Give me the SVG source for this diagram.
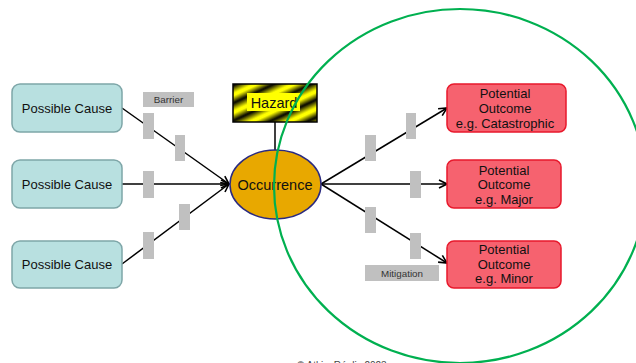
<svg xmlns="http://www.w3.org/2000/svg" width="636" height="363" viewBox="0 0 636 363">
  <defs>
    <style>
      text { font-family: "Liberation Sans", Arial, sans-serif; fill: #111; }
      .cause { fill: #b8e0e0; stroke: #7ea6a8; stroke-width: 1.5; }
      .outcome { fill: #f6626f; stroke: #e8192c; stroke-width: 1.5; }
      .barrier { fill: #c0c0c0; }
      .link { stroke: #000; stroke-width: 1.5; fill: none; }
      .arrow { marker-end: url(#arrowhead); }
      .lbl13 { font-size: 13px; text-anchor: middle; }
      .small { font-size: 9.8px; text-anchor: middle; fill: #333; }
    </style>
    <marker id="arrowhead" viewBox="0 0 10 10" refX="9" refY="5" markerWidth="10" markerHeight="10" markerUnits="userSpaceOnUse" orient="auto">
      <polyline points="1,1 9,5 1,9" fill="none" stroke="#000" stroke-width="1.6"/>
    </marker>
    <linearGradient id="stripeGrad" x1="0" y1="0" x2="0" y2="1">
      <stop offset="0" stop-color="#000"/>
      <stop offset="0.45" stop-color="#ffff00"/>
      <stop offset="0.6" stop-color="#ffff00"/>
      <stop offset="1" stop-color="#000"/>
    </linearGradient>
    <pattern id="hazardStripes" patternUnits="userSpaceOnUse" width="40" height="16" patternTransform="rotate(-25)">
      <rect width="40" height="16" fill="url(#stripeGrad)"/>
    </pattern>
  </defs>

  <rect width="636" height="363" fill="#fff"/>

  <!-- connectors -->
  <g id="connectors">
    <line class="link arrow" x1="122" y1="108" x2="229" y2="184"/>
    <line class="link arrow" x1="122" y1="184" x2="229" y2="184"/>
    <line class="link arrow" x1="122" y1="264" x2="229" y2="184"/>
    <line class="link" x1="275" y1="122" x2="275" y2="150"/>
    <line class="link arrow" x1="321" y1="184" x2="447" y2="108"/>
    <line class="link arrow" x1="321" y1="184" x2="447" y2="184"/>
    <line class="link arrow" x1="321" y1="184" x2="447" y2="263"/>
  </g>

  <!-- barriers on the cause side -->
  <g id="barriers">
    <rect class="barrier" x="143" y="113" width="11" height="26"/>
    <rect class="barrier" x="175" y="135" width="10" height="26"/>
    <rect class="barrier" x="143" y="171" width="11" height="27"/>
    <rect class="barrier" x="179" y="204" width="11" height="26"/>
    <rect class="barrier" x="143" y="232" width="11" height="27"/>
    <rect class="barrier" x="143" y="92" width="51" height="15"/>
    <text class="small" x="168.5" y="103">Barrier</text>
  </g>

  <!-- mitigations on the outcome side -->
  <g id="mitigations">
    <rect class="barrier" x="365" y="135" width="11" height="26"/>
    <rect class="barrier" x="406" y="113" width="10" height="26"/>
    <rect class="barrier" x="410" y="171" width="11" height="27"/>
    <rect class="barrier" x="365" y="207" width="11" height="26"/>
    <rect class="barrier" x="410" y="233" width="11" height="26"/>
    <rect class="barrier" x="365" y="265" width="74" height="16"/>
    <text class="small" x="402" y="276.5">Mitigation</text>
  </g>

  <g id="cause1">
    <rect class="cause" x="12" y="84" width="110" height="48" rx="8"/>
    <text class="lbl13" x="67" y="113">Possible Cause</text>
  </g>
  <g id="cause2">
    <rect class="cause" x="12" y="160" width="110" height="48" rx="8"/>
    <text class="lbl13" x="67" y="189">Possible Cause</text>
  </g>
  <g id="cause3">
    <rect class="cause" x="12" y="241" width="110" height="47" rx="8"/>
    <text class="lbl13" x="67" y="269">Possible Cause</text>
  </g>

  <g id="hazard">
    <rect x="233" y="84" width="84" height="38" fill="url(#hazardStripes)" stroke="#000" stroke-width="1.5"/>
    <rect x="247" y="93" width="53" height="18" fill="#ffff00"/>
    <text x="274" y="108" style="font-size:14.5px;text-anchor:middle">Hazard</text>
  </g>

  <g id="occurrence">
    <ellipse cx="275.5" cy="184.5" rx="45.5" ry="34.5" fill="#e8a800" stroke="#2a2a80" stroke-width="1.5"/>
    <text x="275" y="190" style="font-size:14.5px;text-anchor:middle">Occurrence</text>
  </g>

  <g id="outcome1">
    <rect class="outcome" x="447" y="84" width="119" height="48" rx="7"/>
    <text class="lbl13" x="505" y="98">Potential</text>
    <text class="lbl13" x="505" y="113">Outcome</text>
    <text class="lbl13" x="505" y="128">e.g. Catastrophic</text>
  </g>
  <g id="outcome2">
    <rect class="outcome" x="447" y="160" width="114" height="48" rx="7"/>
    <text class="lbl13" x="504" y="175">Potential</text>
    <text class="lbl13" x="504" y="189">Outcome</text>
    <text class="lbl13" x="504" y="204">e.g. Major</text>
  </g>
  <g id="outcome3">
    <rect class="outcome" x="447" y="241" width="114" height="47" rx="7"/>
    <text class="lbl13" x="504" y="254">Potential</text>
    <text class="lbl13" x="504" y="269">Outcome</text>
    <text class="lbl13" x="504" y="283">e.g. Minor</text>
  </g>

  <!-- consequence zone boundary -->
  <ellipse id="zone" cx="460" cy="186" rx="186" ry="177" fill="none" stroke="#00b050" stroke-width="2.2"/>

  <text x="297" y="369" style="font-size:10px;fill:#444">© AtkinsRéalis 2023</text>
</svg>
